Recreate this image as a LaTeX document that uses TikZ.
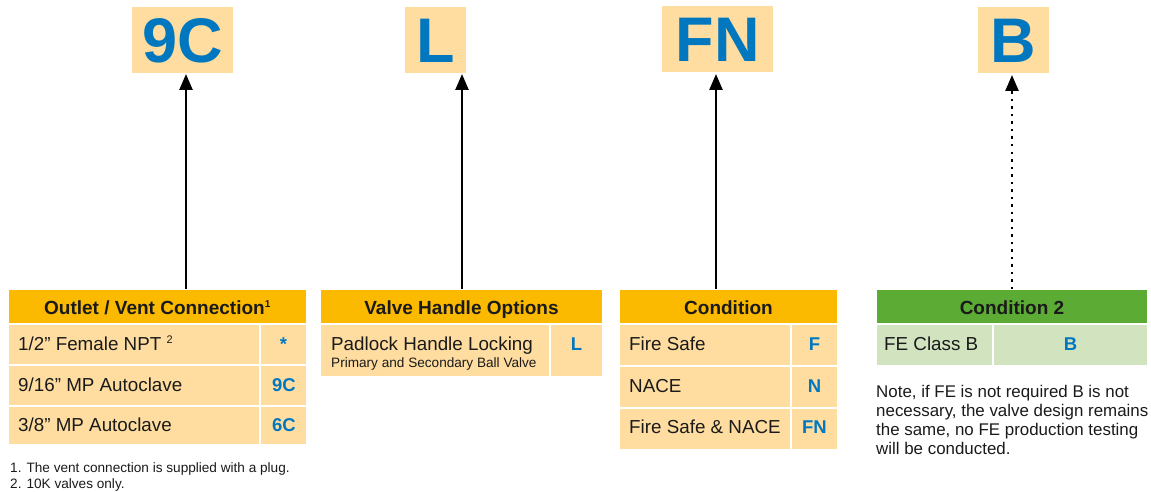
\documentclass[tikz,border=0pt]{standalone}
\usepackage{fontspec}
\setmainfont{Liberation Sans}
\usetikzlibrary{arrows.meta}
\definecolor{hdr}{HTML}{FBB900}
\definecolor{cream}{HTML}{FFDDA0}
\definecolor{codeblue}{HTML}{0077BF}
\definecolor{grn}{HTML}{5CAB34}
\definecolor{lgrn}{HTML}{D1E3BF}
\definecolor{txt}{HTML}{1A1A1A}
\begin{document}
\begin{tikzpicture}[x=1pt,y=-1pt,
  cellbox/.style={draw=white,line width=1.3pt,inner sep=0pt,outer sep=0pt},
  hdrtext/.style={font=\fontsize{19}{22}\selectfont\bfseries,text=txt,anchor=base,inner sep=0pt},
  rowtext/.style={font=\fontsize{18.8}{22}\selectfont,text=txt,inner sep=0pt,anchor=base west},
  smalltext/.style={font=\fontsize{13.6}{16}\selectfont,text=txt,inner sep=0pt,anchor=base west},
  codetext/.style={font=\fontsize{18.5}{21}\selectfont\bfseries,text=codeblue,anchor=base,inner sep=0pt},
  bigcode/.style={font=\fontsize{63}{64}\selectfont\bfseries,text=codeblue,anchor=base,inner sep=0pt},
  arr/.style={-{Triangle[length=16pt,width=13pt]},line width=2.5pt,black},
  darr/.style={-{Triangle[length=16pt,width=13pt]},line width=2.5pt,black,dash pattern=on 2.5pt off 5pt}
]
\useasboundingbox (0,0) rectangle (1151,492);

% top code boxes
\fill[cream] (132,7) rectangle (233,73);
\node[bigcode] (c9c) at (183,63) {9C};
\coordinate (c9cb) at (186,74);
\fill[cream] (405,7) rectangle (466,73);
\node[bigcode] (cl) at (436,63) {L};
\coordinate (clb) at (462,74);
\fill[cream] (662,6) rectangle (773,72);
\node[bigcode] (cfn) at (717.5,62) {FN};
\coordinate (cfnb) at (716,74);
\fill[cream] (978,7) rectangle (1049,73);
\node[bigcode] (cb) at (1013.5,63) {B};
\coordinate (cbb) at (1012,75);

% Table 1
\draw[cellbox,fill=hdr] (8,289) rectangle (307,324);
\node[hdrtext] (h1) at (157.5,314) {Outlet / Vent Connection\textsuperscript{\fontsize{10}{10}\selectfont 1}};
\draw[cellbox,fill=cream] (8,324) rectangle (260,365);
\draw[cellbox,fill=cream] (260,324) rectangle (307,365);
\draw[cellbox,fill=cream] (8,365) rectangle (260,406);
\draw[cellbox,fill=cream] (260,365) rectangle (307,406);
\draw[cellbox,fill=cream] (8,406) rectangle (260,445);
\draw[cellbox,fill=cream] (260,406) rectangle (307,445);
\node[rowtext] (t1a) at (18,350) {1/2” Female NPT \textsuperscript{\fontsize{11}{11}\selectfont 2}};
\node[codetext] (t1ac) at (283.5,350) {*};
\node[rowtext] (t1b) at (18,391) {9/16” MP Autoclave};
\node[codetext] (t1bc) at (284,391) {9C};
\node[rowtext] (t1c) at (18,431) {3/8” MP Autoclave};
\node[codetext] (t1cc) at (284,431) {6C};
\node[smalltext] (f1) at (10,472) {1. The vent connection is supplied with a plug.};
\node[smalltext] (f2) at (10,488) {2. 10K valves only.};
\coordinate (t1top) at (186,289);

% Table 2
\draw[cellbox,fill=hdr] (320,289) rectangle (603,324);
\node[hdrtext] (h2) at (461.5,314) {Valve Handle Options};
\draw[cellbox,fill=cream] (320,324) rectangle (550,377);
\draw[cellbox,fill=cream] (550,324) rectangle (603,377);
\node[rowtext] (t2a) at (331,350.5) {Padlock Handle Locking};
\node[smalltext] (t2s) at (331,367) {Primary and Secondary Ball Valve};
\node[codetext] (t2ac) at (576.5,350) {L};
\coordinate (t2top) at (462,289);

% Table 3
\draw[cellbox,fill=hdr] (619,289) rectangle (838,324);
\node[hdrtext] (h3) at (728.5,314) {Condition};
\draw[cellbox,fill=cream] (619,324) rectangle (791,366);
\draw[cellbox,fill=cream] (791,324) rectangle (838,366);
\draw[cellbox,fill=cream] (619,366) rectangle (791,408);
\draw[cellbox,fill=cream] (791,366) rectangle (838,408);
\draw[cellbox,fill=cream] (619,408) rectangle (791,450);
\draw[cellbox,fill=cream] (791,408) rectangle (838,450);
\node[rowtext] (t3a) at (629,350) {Fire Safe};
\node[codetext] (t3ac) at (814.5,350) {F};
\node[rowtext] (t3b) at (629,392) {NACE};
\node[codetext] (t3bc) at (814.5,392) {N};
\node[rowtext] (t3c) at (629,433) {Fire Safe \& NACE};
\node[codetext] (t3cc) at (814.5,433) {FN};
\coordinate (t3top) at (716,289);

% Table 4
\draw[cellbox,fill=grn] (876,289) rectangle (1148,324);
\node[hdrtext] (h4) at (1012,314) {Condition 2};
\draw[cellbox,fill=lgrn] (876,324) rectangle (993,366);
\draw[cellbox,fill=lgrn] (993,324) rectangle (1148,366);
\node[rowtext] (t4a) at (884,350) {FE Class B};
\node[codetext] (t4ac) at (1070.5,350) {B};
\node[anchor=north west,font=\fontsize{16.9}{18.7}\selectfont,text=txt,align=left,inner sep=0pt] (note) at (876,385.5)
  {Note, if FE is not required B is not\\necessary, the valve design remains\\the same, no FE production testing\\will be conducted.};
\coordinate (t4top) at (1012,289);

% arrows
\draw[arr] (t1top) -- (c9cb);
\draw[arr] (t2top) -- (clb);
\draw[arr] (t3top) -- (cfnb);
\draw[darr] (t4top) -- (cbb);
\end{tikzpicture}
\end{document}
